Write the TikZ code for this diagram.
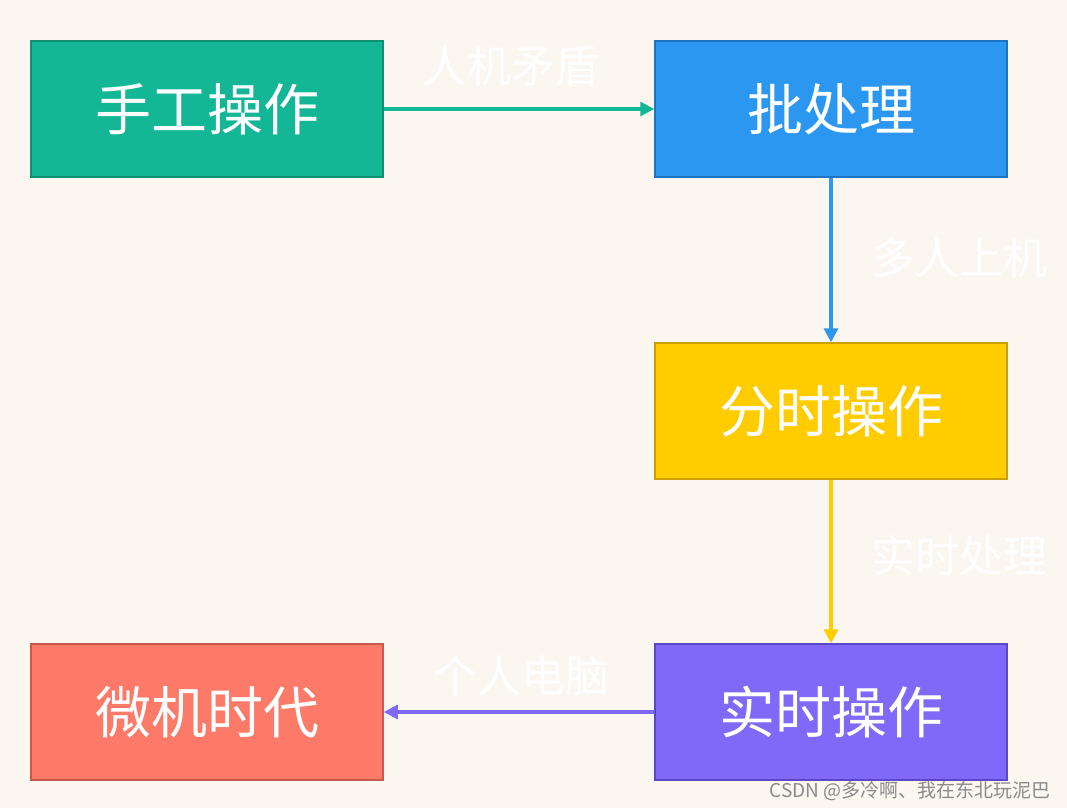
\documentclass[tikz,border=0pt]{standalone}
\usepackage{fontspec}
\setmainfont{Noto Sans CJK SC}
\newfontfamily\wmfont{Noto Sans CJK SC}
\usetikzlibrary{arrows.meta}
\definecolor{bgc}{HTML}{FBF6F0}
\definecolor{tealc}{HTML}{13B795}
\definecolor{tealb}{HTML}{0E8F72}
\definecolor{bluec}{HTML}{2B97F1}
\definecolor{blueb}{HTML}{1E74C0}
\definecolor{yelc}{HTML}{FFCC00}
\definecolor{yelb}{HTML}{C9A000}
\definecolor{purc}{HTML}{8068F8}
\definecolor{purb}{HTML}{5A48C8}
\definecolor{redc}{HTML}{FE7A68}
\definecolor{redb}{HTML}{C85A4C}
\definecolor{wmc}{HTML}{8A8A8A}
\tikzset{
  stagebox/.style={rectangle, minimum width=352pt, minimum height=136pt, line width=1.5pt, text=white, font=\fontsize{56}{60}\selectfont, inner sep=0pt},
  conn/.style={line width=3.2pt, -{Triangle[length=14pt,width=14pt]}},
  lbl/.style={text=white, font=\fontsize{44}{48}\selectfont, inner sep=0pt}
}
\begin{document}
\begin{tikzpicture}[x=1pt,y=-1pt]
\fill[bgc] (0,0) rectangle (1067,808);
\useasboundingbox (0,0) rectangle (1067,808);
\node[stagebox, fill=tealc, draw=tealb] (a) at (207,109) {手工操作};
\node[stagebox, fill=bluec, draw=blueb] (b) at (831,109) {批处理};
\node[stagebox, fill=yelc, draw=yelb] (c) at (831,411) {分时操作};
\node[stagebox, fill=purc, draw=purb] (d) at (831,712) {实时操作};
\node[stagebox, fill=redc, draw=redb] (e) at (207,712) {微机时代};
\draw[conn, tealc] (a) -- (b);
\draw[conn, bluec] (b) -- (c);
\draw[conn, yelc] (c) -- (d);
\draw[conn, purc] (d) -- (e);
\node[lbl] (l1) at (511,66) {人机矛盾};
\node[lbl] (l2) at (959,258) {多人上机};
\node[lbl] (l3) at (959,556) {实时处理};
\node[lbl] (l4) at (521,676) {个人电脑};
\node[text=wmc, font=\wmfont\fontsize{19}{21}\selectfont, inner sep=0pt, anchor=east] (wm) at (1051,791) {CSDN @多冷啊、我在东北玩泥巴};
\end{tikzpicture}
\end{document}
